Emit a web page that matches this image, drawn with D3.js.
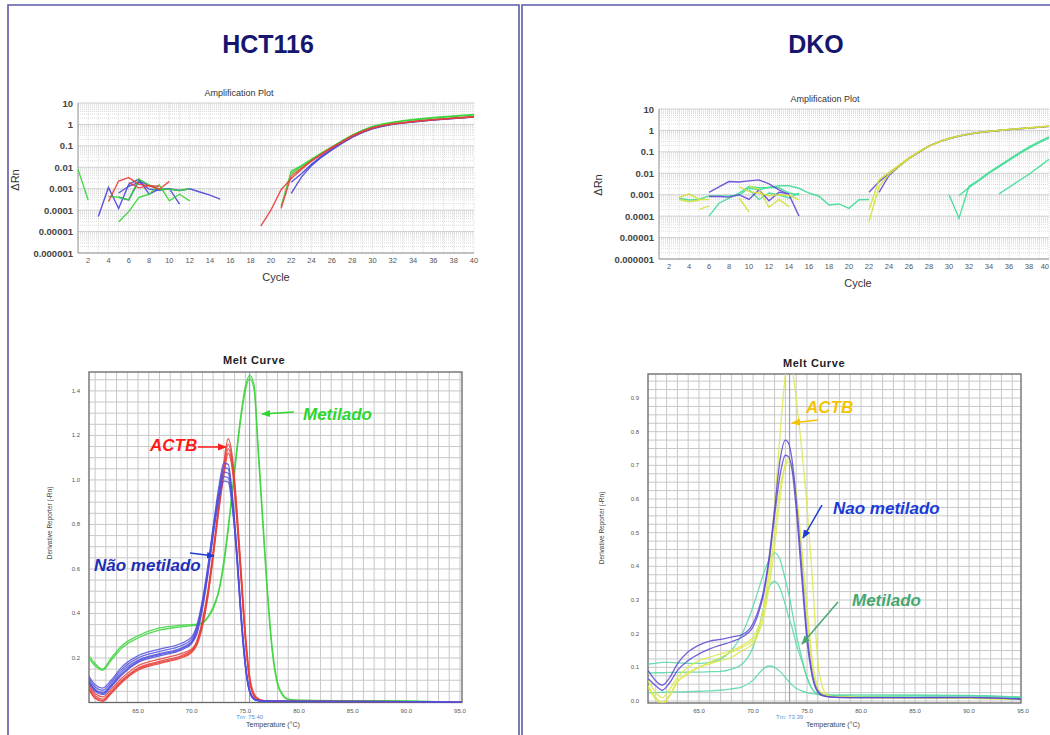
<!DOCTYPE html>
<html><head><meta charset="utf-8">
<script src="https://cdn.jsdelivr.net/npm/d3@7/dist/d3.min.js"></script>
<style>body{margin:0;background:#fff}svg{display:block}text{font-family:"Liberation Sans",Arial,sans-serif}</style>
</head><body>
<script>
// ---------------- DATA ----------------
const panelTitles = ["HCT116", "DKO"];
const ampYTicks = [10, 1, 0.1, 0.01, 0.001, 0.0001, 0.00001, 0.000001];
const ampYTickLabels = ["10","1","0.1","0.01","0.001","0.0001","0.00001","0.000001"];
const ampXTicks = [2,4,6,8,10,12,14,16,18,20,22,24,26,28,30,32,34,36,38,40];

// HCT116 amplification (ΔRn per cycle), each: start cycle + values
const hctAmpGreen = [
  {start:1, dRn:[0.008,0.0003]},
  {start:5, dRn:[0.000028,0.000085,0.0004,0.00055,0.0015,0.00027,0.00055,0.00027]},
  {start:4, dRn:[0.00044,0.0004,0.0003,0.0028,0.0015,0.00095,0.00095,0.00083,0.001]},
  {start:21, dRn:[0.00015,0.0065,0.012,0.024,0.047,0.09,0.17,0.32,0.53,0.8,1.05,1.28,1.5,1.7,1.9,2.1,2.3,2.5,2.7,2.95]},
  {start:22, dRn:[0.005,0.011,0.022,0.044,0.086,0.165,0.31,0.51,0.77,1.0,1.22,1.42,1.62,1.8,1.98,2.16,2.34,2.52,2.75]}
];
const hctAmpRed = [
  {start:4, dRn:[0.00025,0.0023,0.0033,0.0016,0.0014,0.00095,0.0022]},
  {start:6, dRn:[0.0019,0.0011,0.0014,0.0013]},
  {start:19, dRn:[0.000018,0.0001,0.0009,0.003,0.008,0.02,0.04,0.08,0.15,0.28,0.45,0.68,0.88,1.05,1.2,1.35,1.5,1.65,1.8,1.95,2.1,2.3]},
  {start:21, dRn:[0.00012,0.004,0.009,0.02,0.042,0.085,0.16,0.3,0.48,0.7,0.9,1.08,1.22,1.38,1.52,1.67,1.82,1.97,2.12,2.3]}
];
const hctAmpBlue = [
  {start:3, dRn:[0.00005,0.00115,0.00012,0.0016,0.0028,0.00056,0.00095,0.001,0.00019]},
  {start:5, dRn:[0.00063,0.0013,0.002,0.00095,0.00085,0.001,0.00083,0.001,0.0007,0.0005,0.00033]},
  {start:5, dRn:[0.0004,0.0003,0.0023,0.0014,0.00095]},
  {start:22, dRn:[0.0006,0.0035,0.012,0.03,0.065,0.13,0.25,0.42,0.62,0.82,1.0,1.15,1.3,1.45,1.6,1.75,1.9,2.05,2.2]},
  {start:22, dRn:[0.002,0.005,0.014,0.033,0.07,0.14,0.26,0.44,0.65,0.85,1.03,1.18,1.33,1.48,1.63,1.78,1.93,2.08,2.25]}
];

// DKO amplification
const dkoAmpTeal = [
  {start:3, dRn:[0.00068,0.00057,0.0006,0.00088,0.00088,0.00088,0.00097,0.002,0.0017,0.0022,0.0026,0.0026,0.002,0.0012,0.00085,0.00033,0.00037,0.00023,0.00058,0.0006]},
  {start:6, dRn:[0.0001,0.0004,0.0007,0.0012,0.0024,0.0021,0.0022,0.0021,0.0012,0.001]},
  {start:10, dRn:[0.0017,0.0006,0.0012,0.001,0.0007,0.0012]},
  {start:30, dRn:[0.001,0.00008,0.0025,0.005,0.011,0.022,0.045,0.09,0.17,0.3,0.5]},
  {start:31, dRn:[0.0009,0.0022,0.0045,0.01,0.02,0.04,0.08,0.15,0.26,0.44]},
  {start:35, dRn:[0.0011,0.0022,0.0045,0.009,0.02,0.045]}
];
const dkoAmpYellow = [
  {start:3, dRn:[0.00075,0.0011,0.0006,0.0006]},
  {start:3, dRn:[0.0006,0.00047,0.00055]},
  {start:5, dRn:[0.0002,0.0003]},
  {start:9, dRn:[0.0007,0.00016]},
  {start:10, dRn:[0.0026,0.0018,0.00026,0.0006,0.00028]},
  {start:9, dRn:[0.0024,0.0014,0.0012,0.0009,0.001,0.00095,0.00058]},
  {start:22, dRn:[0.000055,0.0024,0.009,0.021,0.048,0.1,0.18,0.29,0.41,0.54,0.67,0.79,0.9,1.0,1.1,1.2,1.3,1.42,1.58]},
  {start:22, dRn:[0.0002,0.0049,0.011,0.024,0.052,0.105,0.19,0.3,0.43,0.56,0.69,0.81,0.92,1.02,1.12,1.22,1.33,1.45,1.6]}
];
const dkoAmpPurple = [
  {start:6, dRn:[0.0013,0.0023,0.0041,0.0039,0.0044,0.0049,0.0032,0.0017,0.001,0.0001]},
  {start:6, dRn:[0.00083,0.00083,0.00077,0.001,0.0006,0.0017,0.00052,0.0013,0.0011]},
  {start:22, dRn:[0.0013,0.004,0.0095,0.022,0.05,0.1,0.19,0.3,0.42,0.55,0.68,0.8,0.9,1.0,1.1,1.2,1.3,1.42,1.55]},
  {start:23, dRn:[0.0013,0.008,0.021,0.049,0.098,0.185,0.29,0.41,0.54,0.67,0.79,0.89,0.99,1.09,1.19,1.29,1.41,1.54]}
];

// Melt curves: temperature grids and derivative reporter values
const hctTemps = [60.4,61.0,61.7,62.5,63.5,65,67,69,70,70.5,71,71.5,72,72.5,73,73.4,73.8,74.2,74.6,75,75.4,75.8,76.2,76.6,77,77.5,78,78.5,79,80,85,90,95.2];
const hctMeltRed = [
  [0.085,0.04,0.025,0.06,0.11,0.165,0.195,0.22,0.24,0.28,0.37,0.5,0.68,0.88,1.08,1.185,1.1,0.88,0.6,0.32,0.12,0.04,0.018,0.01,0.008,0.007,0.006,0.006,0.006,0.005,0.005,0.004,0.0],
  [0.075,0.03,0.015,0.05,0.1,0.155,0.185,0.21,0.235,0.27,0.36,0.49,0.67,0.87,1.06,1.16,1.08,0.86,0.58,0.3,0.11,0.035,0.015,0.009,0.007,0.006,0.006,0.006,0.005,0.005,0.005,0.004,0.0],
  [0.065,0.022,0.008,0.045,0.095,0.15,0.18,0.205,0.23,0.265,0.35,0.48,0.66,0.86,1.04,1.14,1.06,0.84,0.57,0.29,0.1,0.03,0.013,0.008,0.006,0.006,0.005,0.005,0.005,0.005,0.004,0.004,0.0],
  [0.06,0.018,0.005,0.04,0.09,0.145,0.175,0.2,0.225,0.26,0.34,0.47,0.65,0.85,1.02,1.12,1.04,0.82,0.55,0.28,0.095,0.03,0.012,0.007,0.006,0.005,0.005,0.005,0.005,0.004,0.004,0.003,0.0]
];
const hctMeltBlue = [
  [0.12,0.08,0.065,0.1,0.16,0.21,0.24,0.265,0.295,0.35,0.46,0.61,0.79,0.96,1.075,1.07,0.93,0.69,0.41,0.18,0.055,0.018,0.009,0.007,0.006,0.006,0.005,0.005,0.005,0.005,0.005,0.004,0.0],
  [0.11,0.07,0.055,0.09,0.15,0.2,0.23,0.255,0.285,0.34,0.45,0.6,0.78,0.94,1.055,1.05,0.91,0.68,0.4,0.175,0.052,0.017,0.009,0.007,0.006,0.006,0.005,0.005,0.005,0.005,0.005,0.004,0.0],
  [0.1,0.06,0.045,0.08,0.14,0.19,0.22,0.245,0.275,0.33,0.44,0.59,0.77,0.93,1.035,1.03,0.9,0.67,0.39,0.17,0.05,0.016,0.008,0.006,0.006,0.005,0.005,0.005,0.005,0.005,0.004,0.004,0.0],
  [0.095,0.055,0.04,0.075,0.13,0.185,0.215,0.24,0.27,0.32,0.43,0.58,0.76,0.92,1.015,1.01,0.88,0.66,0.38,0.165,0.048,0.015,0.008,0.006,0.005,0.005,0.005,0.005,0.005,0.004,0.004,0.004,0.0],
  [0.09,0.05,0.035,0.07,0.125,0.18,0.21,0.235,0.265,0.31,0.42,0.57,0.75,0.9,0.995,0.99,0.87,0.65,0.37,0.16,0.046,0.015,0.008,0.006,0.005,0.005,0.005,0.005,0.004,0.004,0.004,0.003,0.0]
];
const hctMeltGreen = [
  [0.212,0.175,0.15,0.2,0.255,0.3,0.335,0.347,0.35,0.352,0.36,0.385,0.43,0.5,0.64,0.79,0.96,1.14,1.3,1.42,1.47,1.43,1.15,0.85,0.55,0.25,0.09,0.035,0.015,0.01,0.008,0.007,0.0],
  [0.2,0.165,0.145,0.19,0.245,0.29,0.325,0.34,0.345,0.348,0.355,0.38,0.42,0.49,0.62,0.77,0.94,1.12,1.28,1.4,1.455,1.41,1.12,0.82,0.52,0.23,0.08,0.03,0.013,0.009,0.007,0.006,0.0]
];

const dkoTemps = [60.3,61,61.6,62.3,63,64,65,66,67,68,69,70,70.5,71,71.5,72,72.5,73,73.3,73.6,74,74.5,75,75.5,76,76.5,77,78,80,85,90,94.8];
const dkoMeltPurple = [
  [0.09,0.06,0.047,0.07,0.11,0.146,0.166,0.178,0.183,0.19,0.197,0.23,0.27,0.33,0.43,0.57,0.715,0.775,0.765,0.72,0.6,0.4,0.2,0.08,0.03,0.017,0.013,0.011,0.01,0.01,0.011,0.006],
  [0.066,0.045,0.032,0.055,0.09,0.12,0.14,0.155,0.166,0.176,0.19,0.22,0.26,0.32,0.42,0.55,0.67,0.73,0.725,0.69,0.57,0.37,0.18,0.07,0.026,0.015,0.012,0.01,0.01,0.01,0.01,0.006]
];
const dkoMeltYellow = [
  [0.045,0.01,-0.005,0.02,0.06,0.085,0.1,0.115,0.13,0.145,0.16,0.18,0.21,0.28,0.4,0.58,0.79,0.97,1.03,0.99,0.9,0.75,0.58,0.36,0.12,0.035,0.016,0.012,0.011,0.01,0.009,0.005],
  [0.04,0.005,-0.01,0.015,0.055,0.08,0.1,0.11,0.12,0.13,0.15,0.17,0.2,0.25,0.34,0.46,0.6,0.705,0.72,0.7,0.61,0.44,0.25,0.1,0.035,0.018,0.013,0.011,0.01,0.009,0.008,0.005],
  [0.06,0.025,0.01,0.035,0.07,0.1,0.12,0.13,0.14,0.15,0.165,0.19,0.22,0.27,0.37,0.5,0.63,0.7,0.71,0.69,0.62,0.46,0.28,0.12,0.04,0.02,0.014,0.012,0.011,0.01,0.009,0.006]
];
const dkoMeltTeal = [
  [0.11,0.112,0.115,0.115,0.113,0.112,0.112,0.115,0.125,0.15,0.2,0.28,0.33,0.38,0.42,0.44,0.42,0.36,0.32,0.27,0.2,0.13,0.07,0.035,0.02,0.016,0.015,0.015,0.014,0.015,0.016,0.01],
  [0.083,0.084,0.084,0.085,0.085,0.086,0.086,0.087,0.088,0.095,0.11,0.16,0.21,0.28,0.34,0.355,0.335,0.285,0.25,0.22,0.17,0.12,0.07,0.035,0.02,0.016,0.015,0.015,0.014,0.015,0.015,0.01],
  [0.025,0.025,0.026,0.027,0.027,0.028,0.029,0.03,0.032,0.036,0.042,0.062,0.08,0.097,0.104,0.1,0.088,0.07,0.058,0.048,0.038,0.03,0.025,0.022,0.02,0.02,0.019,0.018,0.018,0.018,0.017,0.012]
];
const meltXTicks = [65,70,75,80,85,90,95];
const hctMeltYTicks = [0.2,0.4,0.6,0.8,1.0,1.2,1.4];
const dkoMeltYTicks = [0.0,0.1,0.2,0.3,0.4,0.5,0.6,0.7,0.8,0.9];
const hctTm = 75.40, dkoTm = 73.39;

// ---------------- DRAW ----------------
const svg = d3.select("body").append("svg").attr("width",1050).attr("height",735);
svg.append("rect").attr("width",1050).attr("height",735).attr("fill","#fff");
const defs = svg.append("defs");

// panel frames
svg.append("path").attr("d","M8,735V5H519V735").attr("fill","none").attr("stroke","#5a5aa6").attr("stroke-width",1.6);
svg.append("path").attr("d","M522,735V5H1051").attr("fill","none").attr("stroke","#5a5aa6").attr("stroke-width",1.6);
svg.append("text").attr("x",268).attr("y",53).attr("text-anchor","middle").attr("font-size",25).attr("font-weight","bold").attr("fill","#16166e").text(panelTitles[0]);
svg.append("text").attr("x",816).attr("y",53).attr("text-anchor","middle").attr("font-size",25).attr("font-weight","bold").attr("fill","#16166e").text(panelTitles[1]);

function drawAmp(o, groups){
  const x = d3.scaleLinear().domain([1,40]).range([o.x0,o.x1]);
  const y = d3.scaleLog().domain([1e-6,10]).range([o.y1,o.y0]);
  const g = svg.append("g");
  const cid = "clipA"+o.id;
  defs.append("clipPath").attr("id",cid).append("rect").attr("x",o.x0).attr("y",o.y0).attr("width",o.x1-o.x0).attr("height",o.y1-o.y0);
  // grid
  const cyc = d3.range(1,41);
  g.selectAll(null).data(cyc).join("line").attr("x1",d=>x(d)).attr("x2",d=>x(d)).attr("y1",o.y0).attr("y2",o.y1)
    .attr("stroke","#d6d6d6").attr("stroke-width",0.8).attr("stroke-dasharray","1,1");
  const minor=[]; ampYTicks.slice(1).forEach(t=>{for(let k=2;k<10;k++) minor.push(t*k);});
  g.selectAll(null).data(minor).join("line").attr("x1",o.x0).attr("x2",o.x1).attr("y1",d=>y(d)).attr("y2",d=>y(d))
    .attr("stroke","#d2d2d2").attr("stroke-width",0.8).attr("stroke-dasharray","1,1");
  g.selectAll(null).data(ampYTicks).join("line").attr("x1",o.x0).attr("x2",o.x1).attr("y1",d=>y(d)).attr("y2",d=>y(d))
    .attr("stroke","#c4c4c4").attr("stroke-width",0.8);
  g.append("line").attr("x1",o.x0).attr("x2",o.x0).attr("y1",o.y0).attr("y2",o.y1).attr("stroke","#999");
  g.append("line").attr("x1",o.x0).attr("x2",o.x1).attr("y1",o.y1).attr("y2",o.y1).attr("stroke","#999");
  // y labels
  g.selectAll(null).data(ampYTicks).join("text").attr("x",o.x0-5).attr("y",d=>y(d)+3.5).attr("text-anchor","end")
    .attr("font-size",9.5).attr("font-weight","bold").attr("fill","#444").text((d,i)=>ampYTickLabels[i]);
  g.selectAll(null).data(ampXTicks).join("text").attr("x",d=>Math.min(x(d),1049)).attr("y",o.y1+10)
    .attr("text-anchor",d=>x(d)>1044?"end":"middle")
    .attr("font-size",7.5).attr("fill","#555").text(d=>d);
  g.append("text").attr("x",o.tx).attr("y",o.ty).attr("text-anchor","middle").attr("font-size",9).attr("fill","#333").text("Amplification Plot");
  g.append("text").attr("x",o.cx).attr("y",o.cy).attr("text-anchor","middle").attr("font-size",11).attr("fill","#333").text("Cycle");
  g.append("text").attr("transform",`translate(${o.rx},${o.ry}) rotate(-90)`).attr("text-anchor","middle").attr("font-size",11).attr("fill","#333").text("ΔRn");
  const line = d3.line().x(d=>x(d[0])).y(d=>y(d[1]));
  const lg = g.append("g").attr("clip-path",`url(#${cid})`);
  groups.forEach(gr=>{
    gr.data.forEach(s=>{
      const pts = s.dRn.map((v,i)=>[s.start+i,v]);
      lg.append("path").attr("d",line(pts)).attr("fill","none").attr("stroke",gr.color).attr("stroke-width",1.4).attr("stroke-opacity",0.9);
    });
  });
}

drawAmp({id:1,x0:78,x1:474,y0:103,y1:253,tx:239,ty:96,cx:276,cy:281,rx:19,ry:180},
  [{data:hctAmpBlue,color:"#4b44dc"},{data:hctAmpGreen,color:"#35d435"},{data:hctAmpRed,color:"#e6403a"}]);
drawAmp({id:2,x0:659,x1:1049,y0:109,y1:259,tx:825,ty:102,cx:858,cy:287,rx:602,ry:185},
  [{data:dkoAmpTeal,color:"#3fdc96"},{data:dkoAmpPurple,color:"#6645d6"},{data:dkoAmpYellow,color:"#d4e03a"}]);

function drawMelt(o, temps, groups){
  const x = d3.scaleLinear().domain(o.xd).range([o.x0,o.x1]);
  const y = d3.scaleLinear().domain(o.yd).range([o.y1,o.y0]);
  const g = svg.append("g");
  const cid = "clipM"+o.id;
  defs.append("clipPath").attr("id",cid).append("rect").attr("x",o.x0).attr("y",o.y0).attr("width",o.x1-o.x0).attr("height",o.y1-o.y0);
  const vx = d3.range(61,96).filter(t=>x(t)>o.x0+1&&x(t)<o.x1-1);
  g.selectAll(null).data(vx).join("line").attr("x1",d=>x(d)).attr("x2",d=>x(d)).attr("y1",o.y0).attr("y2",o.y1).attr("stroke","#c8c8c8").attr("stroke-width",1);
  const hy = d3.range(0,Math.round(o.yd[1]/o.step)+1).map(k=>k*o.step).filter(v=>y(v)>o.y0+1&&y(v)<o.y1-1);
  g.selectAll(null).data(hy).join("line").attr("x1",o.x0).attr("x2",o.x1).attr("y1",d=>y(d)).attr("y2",d=>y(d)).attr("stroke","#c8c8c8").attr("stroke-width",1);
  g.append("rect").attr("x",o.x0).attr("y",o.y0).attr("width",o.x1-o.x0).attr("height",o.y1-o.y0).attr("fill","none").attr("stroke","#666").attr("stroke-width",1.3);
  // Tm line
  g.append("line").attr("x1",x(o.tm)).attr("x2",x(o.tm)).attr("y1",o.y0).attr("y2",o.y1).attr("stroke","#6f9ad8").attr("stroke-width",1);
  // ticks
  g.selectAll(null).data(o.yt).join("text").attr("x",o.x0-9).attr("y",d=>y(d)+2).attr("text-anchor","end").attr("font-size",6).attr("fill","#555").text(d=>d.toFixed(1));
  g.selectAll(null).data(meltXTicks).join("text").attr("x",d=>x(d)).attr("y",o.y1+10).attr("text-anchor","middle").attr("font-size",6).attr("fill","#555").text(d=>d.toFixed(1));
  g.append("text").attr("x",o.tx).attr("y",o.ty).attr("text-anchor","middle").attr("font-size",11).attr("font-weight","bold").attr("letter-spacing",0.6).attr("fill","#222").attr("font-family","DejaVu Sans").text("Melt Curve");
  g.append("text").attr("x",x(o.tm)).attr("y",o.y1+16).attr("text-anchor","middle").attr("font-size",6).attr("fill","#5b8fd0").text("Tm: "+o.tm.toFixed(2));
  g.append("text").attr("x",o.lx).attr("y",o.y1+24).attr("text-anchor","middle").attr("font-size",7).attr("fill","#444").text("Temperature (°C)");
  g.append("text").attr("transform",`translate(${o.rx},${o.ry}) rotate(-90)`).attr("text-anchor","middle").attr("font-size",6.5).attr("fill","#444").text("Derivative Reporter (-Rn)");
  const line = d3.line().x((d,i)=>x(temps[i])).y(d=>y(d)).curve(d3.curveMonotoneX);
  const lg = g.append("g").attr("clip-path",`url(#${cid})`);
  groups.forEach(gr=>gr.data.forEach(s=>{
    lg.append("path").attr("d",line(s)).attr("fill","none").attr("stroke",gr.color).attr("stroke-width",1.3).attr("stroke-opacity",0.85);
  }));
}

drawMelt({id:1,x0:89,x1:462,y0:372,y1:702.5,xd:[60.43,95.19],yd:[0,1.485],step:0.05,tm:hctTm,yt:hctMeltYTicks,tx:254,ty:364,lx:273,rx:52,ry:523},
  hctTemps,[{data:hctMeltGreen,color:"#3ad43a"},{data:hctMeltRed,color:"#e8403a"},{data:hctMeltBlue,color:"#5050dc"}]);
drawMelt({id:2,x0:648,x1:1021,y0:374,y1:703,xd:[60.28,94.81],yd:[-0.0059,0.9713],step:0.025,tm:dkoTm,yt:dkoMeltYTicks,tx:814,ty:367,lx:833,rx:604,ry:528},
  dkoTemps,[{data:dkoMeltTeal,color:"#55d8a4"},{data:dkoMeltYellow,color:"#dde84a"},{data:dkoMeltPurple,color:"#5a48d4"}]);

// annotations
function arrow(id,color,x1,y1,x2,y2,w){
  defs.append("marker").attr("id",id).attr("viewBox","0 0 10 10").attr("refX",9).attr("refY",5).attr("markerWidth",6).attr("markerHeight",6).attr("orient","auto")
    .append("path").attr("d","M0,1L10,5L0,9z").attr("fill",color);
  svg.append("line").attr("x1",x1).attr("y1",y1).attr("x2",x2).attr("y2",y2).attr("stroke",color).attr("stroke-width",w||1.5).attr("marker-end",`url(#${id})`);
}
function label(t,x,y,color){
  svg.append("text").attr("x",x).attr("y",y).attr("font-size",17).attr("font-style","italic").attr("font-weight","bold").attr("fill",color).text(t);
}
label("Metilado",303,420,"#2ed62e"); arrow("a1","#2ed62e",294,412,262,414);
label("ACTB",150,451,"#ff1a1a"); arrow("a2","#ff1a1a",198,447,226,447);
label("Não metilado",94,571,"#1c2fb8"); arrow("a3","#1c3ad8",190,553,214,556,1.3);
label("ACTB",806,413,"#f5c400"); arrow("a4","#f5c400",818,420,792,423);
label("Nao metilado",833,514,"#1c3ad8"); arrow("a5","#1c3ad8",822,505,803,538);
label("Metilado",852,606,"#45a872"); arrow("a6","#45a872",838,602,802,644);
</script>
</body></html>
